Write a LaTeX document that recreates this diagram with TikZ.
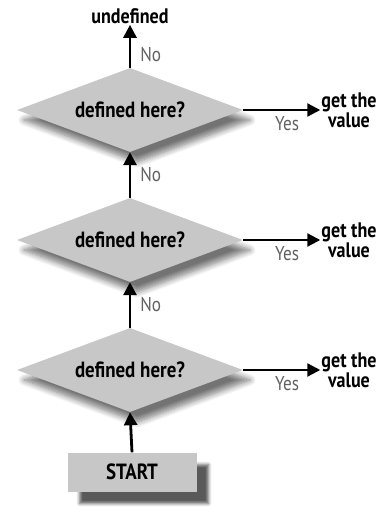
\documentclass[tikz,border=0pt]{standalone}
\usepackage{fontspec}
\setmainfont{PT Sans}[FakeStretch=0.86]
\usetikzlibrary{shapes.geometric,arrows.meta,shadows.blur}

\tikzset{
  test/.style={diamond, fill=black!22, minimum width=226pt, minimum height=84pt,
    aspect=2.69, inner sep=0pt, font=\bfseries\fontsize{22}{24}\selectfont,
    blur shadow={shadow xshift=7pt, shadow yshift=-10pt, shadow blur steps=8,
      shadow blur radius=6pt, shadow opacity=55}},
  startbox/.style={rectangle, fill=black!22, minimum width=129pt, minimum height=39pt,
    font=\bfseries\fontsize{22}{24}\selectfont,
    blur shadow={shadow xshift=12pt, shadow yshift=-12pt, shadow blur steps=5,
      shadow blur radius=3pt, shadow opacity=65}},
  result/.style={align=center, inner sep=1pt, font=\bfseries\fontsize{21}{19}\selectfont},
  answer/.style={text=black!62, inner sep=2pt, font=\fontsize{20}{22}\selectfont},
  flow/.style={-{Triangle[length=13pt,width=13pt]}, line width=2.8pt}
}

\begin{document}
\begin{tikzpicture}[x=1pt,y=-1pt]
        \useasboundingbox (0,0) rectangle (385,519);

        % the three tests, with their yes branches
        \foreach \i/\y in {1/110,2/240,3/370}{
        \node[test] (d\i) at (130,\y) {defined here?};
        \node[result] (r\i) at (349,\y) {get the\\value};
        \draw[flow, line width=2.2pt] (d\i.east) -- (r\i.west)
            node[answer, pos=0.57, below=3pt] {Yes};
        }

        \node[startbox] (start) at (132,472) {START};
        \node[result] (undef) at (130,16) {undefined};

        % no branches
        \draw[flow] (start.north) -- (d3.south);
        \draw[flow] (d3.north) -- (d2.south) node[answer, midway, right=7pt] {No};
        \draw[flow] (d2.north) -- (d1.south) node[answer, midway, right=7pt] {No};
        \draw[flow] (d1.north) -- (undef.south) node[answer, pos=0.3, right=7pt] {No};
        \end{tikzpicture}
\end{document}
